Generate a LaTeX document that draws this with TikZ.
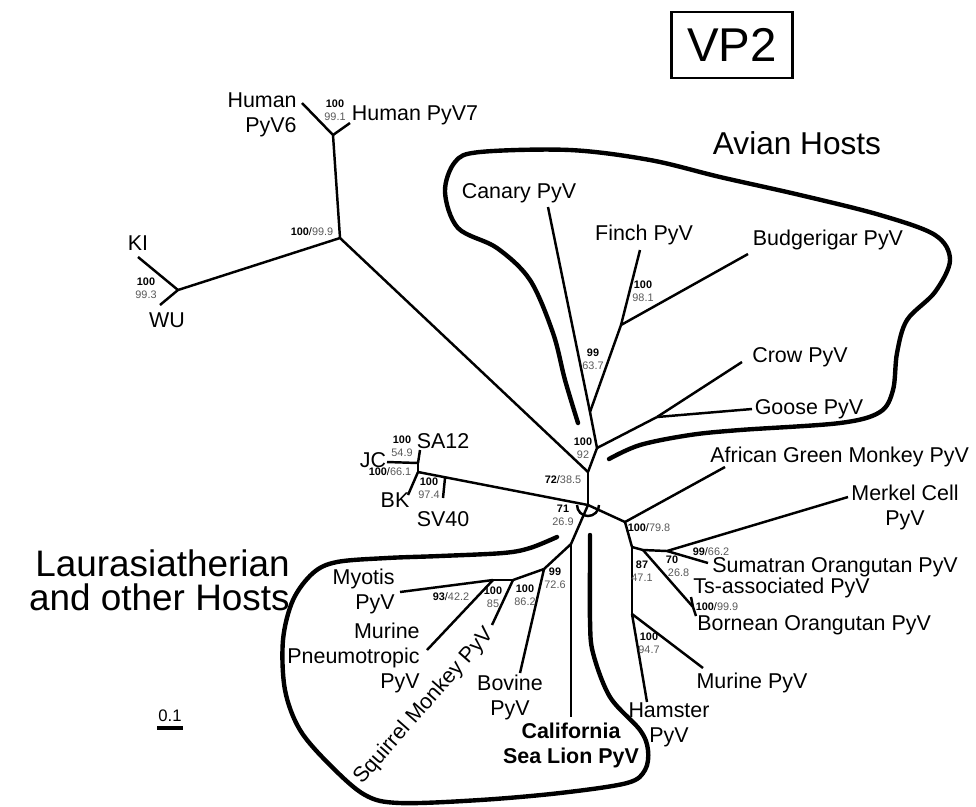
\documentclass[tikz,border=0pt]{standalone}
\usepackage{fontspec}
\setmainfont{Liberation Sans}
\usetikzlibrary{positioning}

\definecolor{supgray}{gray}{0.35}
\newcommand{\bsline}[2]{\textbf{#1}/{\color{supgray}#2}}
\newcommand{\bsstack}[2]{\textbf{#1}\\{\color{supgray}#2}}

\begin{document}
\begin{tikzpicture}[x=0.02cm, y=-0.02cm,
                    branch/.style={line width=1.4pt},
                    hostline/.style={line width=2.5pt, line cap=round, line join=round},
                    leaf/.style={font=\fontsize{12.2}{14.2}\selectfont, inner sep=0pt, align=center},
                    boot/.style={font=\fontsize{6.2}{7.4}\selectfont, inner sep=0pt, align=center},
                    group/.style={font=\fontsize{18}{22}\selectfont, inner sep=0pt}]

  \useasboundingbox (0,0) rectangle (976,806);

  % title
  \node[draw, line width=1.4pt, font=\fontsize{27}{30}\selectfont,
        minimum width=2.42cm, minimum height=1.32cm, inner sep=0pt] (title) at (732,45) {VP2};

  % inner points of the tree
  \coordinate (root) at (588,505);
  \coordinate (n72) at (588,472);
  \coordinate (nav) at (597,448);
  \coordinate (ncf) at (590,412);
  \coordinate (nfb) at (621,325);
  \coordinate (ncg) at (657,417);
  \coordinate (nhu) at (340,238);
  \coordinate (nh67) at (333,135);
  \coordinate (nkw) at (178,290);
  \coordinate (nsv) at (445,478);
  \coordinate (njb) at (418,472);
  \coordinate (njs) at (418,463);
  \coordinate (now) at (625,522);
  \coordinate (n87) at (632,547);
  \coordinate (n70) at (643,550);
  \coordinate (n99) at (667,551);
  \coordinate (ntb) at (693,607);
  \coordinate (nmh) at (632,614);
  \coordinate (nl1) at (571,544);
  \coordinate (nl2) at (544,569);
  \coordinate (nl3) at (513,580);
  \coordinate (nl4) at (493,580);

  % tips
  \coordinate (canaryE) at (548,207);
  \coordinate (finchE) at (640,250);
  \coordinate (budgE) at (748,254);
  \coordinate (crowE) at (742,362);
  \coordinate (gooseE) at (752,409);
  \coordinate (h6E) at (302,103);
  \coordinate (h7E) at (350,123);
  \coordinate (kiE) at (138,257);
  \coordinate (wuE) at (160,305);
  \coordinate (sa12E) at (420,450);
  \coordinate (jcE) at (387,462);
  \coordinate (bkE) at (408,495);
  \coordinate (sv40E) at (443,498);
  \coordinate (agmE) at (725,467);
  \coordinate (merkelE) at (848,497);
  \coordinate (sumE) at (708,563);
  \coordinate (tsE) at (691,597);
  \coordinate (borE) at (696,616);
  \coordinate (murE) at (703,668);
  \coordinate (hamE) at (647,702);
  \coordinate (cslE) at (571,717);
  \coordinate (bovE) at (520,673);
  \coordinate (sqmE) at (492,625);
  \coordinate (myoE) at (400,592);
  \coordinate (mptE) at (427,650);

  \foreach \i/\j in {root/n72, n72/nav, nav/ncf, ncf/canaryE, ncf/nfb, nfb/finchE, nfb/budgE,
                     nav/ncg, ncg/crowE, ncg/gooseE, n72/nhu, nhu/nh67, nh67/h6E, nh67/h7E,
                     nhu/nkw, nkw/kiE, nkw/wuE, root/njb, njb/njs, njs/sa12E, njs/jcE, njb/bkE,
                     nsv/sv40E, root/now, now/agmE, now/n87, n87/n70, n70/n99, n99/merkelE,
                     n99/sumE, n70/ntb, ntb/tsE, ntb/borE, n87/nmh, nmh/murE, nmh/hamE,
                     root/nl1, nl1/cslE, nl1/nl2, nl2/bovE, nl2/nl3, nl3/sqmE, nl3/nl4,
                     nl4/myoE, nl4/mptE} {
    \draw[branch] (\i) -- (\j);
  }

  % root mark
  \draw[branch] (root) ++(-0.22cm,0) arc[start angle=180, end angle=360, radius=0.22cm];

  % host groups
  \draw[hostline] plot[smooth, tension=0.55] coordinates {(578,423) (565,380) (553,333) (530,280)
      (497,248) (458,228) (445,192) (455,162) (480,152) (570,150) (650,160) (720,177) (800,195)
      (880,215) (935,235) (950,260) (935,292) (907,320) (897,353) (893,390) (880,412) (840,423)
      (740,430) (690,435) (640,445) (609,459)};
  \draw[hostline] plot[smooth, tension=0.55] coordinates {(557,537) (530,548) (503,553) (440,556)
      (387,558) (337,562) (313,573) (293,600) (283,640) (285,690) (300,730) (330,765) (365,795)
      (400,803) (480,800) (560,793) (627,783) (645,770) (648,750) (640,730) (610,697) (593,653)
      (590,620) (590,560) (590,535)};

  % leaf names
  \node[leaf] (canary) at (519,193) {Canary PyV};
  \node[leaf] (finch) at (644,235) {Finch PyV};
  \node[leaf] (budg) at (828,240) {Budgerigar PyV};
  \node[leaf] (crow) at (800,357) {Crow PyV};
  \node[leaf] (goose) at (809,409) {Goose PyV};
  \node[leaf] (h7) at (415,115) {Human PyV7};
  \node[leaf, anchor=east, align=right] (h6) at (297,115) {Human\\PyV6};
  \node[leaf] (ki) at (138,243) {KI};
  \node[leaf] (wu) at (167,320) {WU};
  \node[leaf] (sa12) at (443,441) {SA12};
  \node[leaf] (jc) at (373,460) {JC};
  \node[leaf] (bk) at (395,500) {BK};
  \node[leaf] (sv40) at (443,519) {SV40};
  \node[leaf, anchor=west] (agm) at (710,457) {African Green Monkey PyV};
  \node[leaf] (merkel) at (905,507) {Merkel Cell\\PyV};
  \node[leaf, anchor=west] (sum) at (712,567) {Sumatran Orangutan PyV};
  \node[leaf, anchor=west] (ts) at (693,588) {Ts-associated PyV};
  \node[leaf, anchor=west] (bor) at (697,625) {Bornean Orangutan PyV};
  \node[leaf] (mur) at (752,683) {Murine PyV};
  \node[leaf] (ham) at (669,725) {Hamster\\PyV};
  \node[leaf, font=\fontsize{12.2}{14.2}\selectfont\bfseries] (csl) at (571,745) {California\\Sea Lion PyV};
  \node[leaf] (bov) at (510,697) {Bovine\\PyV};
  \node[leaf, rotate=48.7] (sqm) at (424,706) {Squirrel Monkey PyV};
  \node[leaf, anchor=east, align=right] (mpt) at (420,658) {Murine\\Pneumotropic\\PyV};
  \node[leaf, anchor=east, align=right] (myo) at (395,591) {Myotis\\PyV};

  % group names
  \node[group] (avian) at (797,143) {Avian Hosts};
  \node[group, font=\fontsize{21}{19.5}\selectfont, anchor=east, align=right] (laura) at (290,580)
       {Laurasiatherian\\and other Hosts};

  % support values
  \node[boot] (b1) at (312,232) {\bsline{100}{99.9}};
  \node[boot] (b2) at (335,110) {\bsstack{100}{99.1}};
  \node[boot] (b3) at (146,288) {\bsstack{100}{99.3}};
  \node[boot] (b4) at (402,446) {\bsstack{100}{54.9}};
  \node[boot] (b5) at (390,472) {\bsline{100}{66.1}};
  \node[boot] (b6) at (429,488) {\bsstack{100}{97.4}};
  \node[boot] (b7) at (563,480) {\bsline{72}{38.5}};
  \node[boot] (b8) at (583,448) {\bsstack{100}{92}};
  \node[boot] (b9) at (563,515) {\bsstack{71}{26.9}};
  \node[boot] (b10) at (649,528) {\bsline{100}{79.8}};
  \node[boot] (b11) at (593,359) {\bsstack{99}{63.7}};
  \node[boot] (b12) at (643,291) {\bsstack{100}{98.1}};
  \node[boot] (b13) at (642,571) {\bsstack{87}{47.1}};
  \node[boot] (b14) at (672,566) {\bsstack{70}{\hspace*{1.2em}26.8}};
  \node[boot] (b15) at (711,552) {\bsline{99}{66.2}};
  \node[boot] (b16) at (717,607) {\bsline{100}{99.9}};
  \node[boot] (b17) at (649,643) {\bsstack{100}{94.7}};
  \node[boot] (b18) at (451,597) {\bsline{93}{42.2}};
  \node[boot] (b19) at (493,597) {\bsstack{100}{85}};
  \node[boot] (b20) at (525,595) {\bsstack{100}{86.2}};
  \node[boot] (b21) at (555,578) {\bsstack{99}{72.6}};

  % scale bar
  \node[boot, font=\fontsize{9.5}{10}\selectfont] (scale) at (170,716) {0.1};
  \draw[line width=2.3pt] (157,728) -- (183,728);
\end{tikzpicture}
\end{document}
